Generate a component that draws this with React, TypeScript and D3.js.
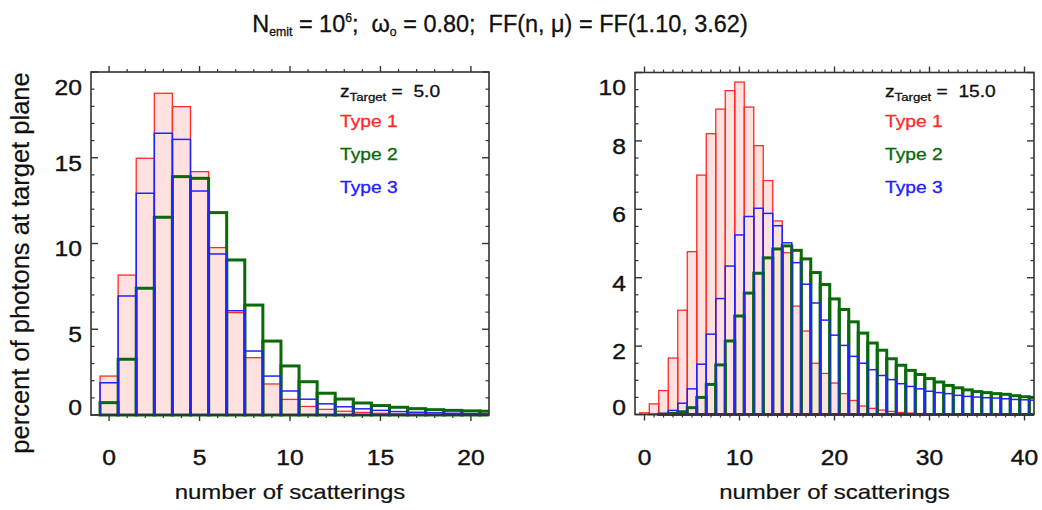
import React from "react";
import * as d3 from "d3";

// ---------- data ----------
const leftBins = d3.range(0, 22);
const leftType1 = [2.27, 8.16, 14.97, 18.76, 17.98, 14.19, 9.76, 5.97, 3.34, 1.81, 0.91, 0.5, 0.33, 0.22, 0.15, 0.1, 0.07, 0.05, 0.04, 0.03, 0.02, 0.015];
const leftType2 = [0.72, 3.25, 7.39, 11.53, 13.9, 13.8, 11.8, 9.04, 6.41, 4.31, 2.86, 1.94, 1.27, 0.93, 0.7, 0.55, 0.45, 0.37, 0.31, 0.27, 0.24, 0.22];
const leftType3 = [1.88, 6.94, 12.93, 16.43, 16.07, 13.06, 9.39, 6.08, 3.73, 2.27, 1.4, 0.92, 0.65, 0.48, 0.36, 0.27, 0.2, 0.16, 0.13, 0.1, 0.08, 0.07];

const rightBins = d3.range(0, 42);
const rightType1 = [0.05, 0.31, 0.7, 1.65, 3.05, 4.76, 7.0, 8.21, 8.93, 9.47, 9.72, 8.99, 7.86, 6.84, 5.66, 4.73, 3.17, 2.44, 1.5, 1.2, 0.92, 0.61, 0.41, 0.25, 0.18, 0.13, 0.09, 0.06, 0.04, 0.03, 0.02, 0.01, 0.01, 0, 0, 0, 0, 0, 0, 0, 0, 0];
const rightType2 = [0, 0, 0.01, 0.03, 0.08, 0.2, 0.5, 0.88, 1.45, 2.15, 2.88, 3.55, 4.13, 4.58, 4.84, 4.93, 4.8, 4.55, 4.15, 3.8, 3.38, 3.07, 2.71, 2.38, 2.09, 1.88, 1.63, 1.44, 1.29, 1.17, 1.05, 0.95, 0.85, 0.78, 0.72, 0.67, 0.64, 0.61, 0.59, 0.55, 0.52, 0.5];
const rightType3 = [0, 0.01, 0.03, 0.12, 0.33, 0.75, 1.47, 2.35, 3.39, 4.34, 5.25, 5.79, 6.03, 5.88, 5.52, 5.02, 4.44, 3.81, 3.26, 2.76, 2.32, 2.02, 1.7, 1.5, 1.31, 1.14, 1.02, 0.9, 0.82, 0.75, 0.68, 0.64, 0.61, 0.56, 0.53, 0.51, 0.49, 0.48, 0.46, 0.44, 0.43, 0.42];

const legendLabels = ["Type 1", "Type 2", "Type 3"];
const leftXTicks = [0, 5, 10, 15, 20];
const leftYTicks = [0, 5, 10, 15, 20];
const rightXTicks = [0, 10, 20, 30, 40];
const rightYTicks = [0, 2, 4, 6, 8, 10];

// ---------- style ----------
const FONT = "'Liberation Sans', Arial, Helvetica, sans-serif";
const SX = 1.2;
const RED = "#ff2a2a";
const PINK = "#ffe1df";
const GREEN = "#0a6a0a";
const BLUE = "#2222ff";
const AXIS = "#333";
const INK = "#111";

function T({ x, y, size, fill = INK, anchor = "start", sw = 0.3, sx = SX, children }: any) {
  return (
    <g transform={`translate(${x},${y}) scale(${sx},1)`}>
      <text x={0} y={0} fontSize={size} fill={fill} stroke={fill} strokeWidth={sw} textAnchor={anchor} fontFamily={FONT} style={{ whiteSpace: "pre" }}>
        {children}
      </text>
    </g>
  );
}

type PanelCfg = {
  id: string;
  left: number; right: number; top: number; bottom: number;
  xDomain: [number, number]; yDomain: [number, number];
  xMajor: number[]; xMinorStep: number; yMajor: number[]; yMinorStep: number;
  bins: number[]; t1: number[]; t2: number[]; t3: number[];
  zLabel: string;
};

function Panel({ c }: { c: PanelCfg }) {
  const x = d3.scaleLinear().domain(c.xDomain).range([c.left, c.right]);
  const y = d3.scaleLinear().domain(c.yDomain).range([c.bottom, c.top]);
  const eps = 1e-6;
  const xMinor = d3.range(Math.ceil(c.xDomain[0]), c.xDomain[1] + eps, c.xMinorStep).filter((v) => v > c.xDomain[0] + eps && v < c.xDomain[1] - eps && !c.xMajor.includes(v));
  const yMinor = d3.range(c.yDomain[0], c.yDomain[1] + eps, c.yMinorStep).filter((v) => v > c.yDomain[0] + eps && v < c.yDomain[1] - eps && !c.yMajor.some((m) => Math.abs(m - v) < eps));
  const rectOf = (b: number, v: number) => ({ x: x(b - 0.5), y: y(v), w: x(b + 0.5) - x(b - 0.5), h: y(0) - y(v) });
  const bars = (vals: number[]) => c.bins.map((b, i) => ({ b, ...rectOf(b, vals[i]) }));
  const clip = `clip-${c.id}`;
  const legX = c.right - 149;
  return (
    <g>
      <defs>
        <clipPath id={clip}>
          <rect x={c.left} y={c.top - 2} width={c.right - c.left} height={c.bottom - c.top + 4} />
        </clipPath>
      </defs>
      <g clipPath={`url(#${clip})`}>
        {bars(c.t1).map((r) => (
          <rect key={"f" + r.b} x={r.x} y={r.y} width={r.w} height={r.h} fill={PINK} stroke="none" />
        ))}
        {bars(c.t1).map((r) => (
          <rect key={"r" + r.b} x={r.x} y={r.y} width={r.w} height={r.h} fill="none" stroke={RED} strokeWidth={1.3} />
        ))}
        {bars(c.t2).map((r) => (
          <rect key={"g" + r.b} x={r.x} y={r.y} width={r.w} height={r.h} fill="none" stroke={GREEN} strokeWidth={3} />
        ))}
        {bars(c.t3).map((r) => (
          <rect key={"b" + r.b} x={r.x} y={r.y} width={r.w} height={r.h} fill="none" stroke={BLUE} strokeWidth={1.5} />
        ))}
      </g>
      {/* frame */}
      <rect x={c.left} y={c.top} width={c.right - c.left} height={c.bottom - c.top} fill="none" stroke={AXIS} strokeWidth={1.6} />
      {/* x ticks (outward, top & bottom) */}
      {c.xMajor.map((v) => (
        <g key={"xm" + v}>
          <line x1={x(v)} x2={x(v)} y1={c.bottom} y2={c.bottom + 6} stroke={AXIS} strokeWidth={1.4} />
          <line x1={x(v)} x2={x(v)} y1={c.top} y2={c.top - 6} stroke={AXIS} strokeWidth={1.4} />
        </g>
      ))}
      {xMinor.map((v) => (
        <g key={"xn" + v}>
          <line x1={x(v)} x2={x(v)} y1={c.bottom} y2={c.bottom + 3} stroke={AXIS} strokeWidth={1.2} />
          <line x1={x(v)} x2={x(v)} y1={c.top} y2={c.top - 3} stroke={AXIS} strokeWidth={1.2} />
        </g>
      ))}
      {/* y ticks (inward, left & right) */}
      {c.yMajor.map((v) => (
        <g key={"ym" + v}>
          <line x1={c.left} x2={c.left + 7} y1={y(v)} y2={y(v)} stroke={AXIS} strokeWidth={1.4} />
          <line x1={c.right} x2={c.right - 7} y1={y(v)} y2={y(v)} stroke={AXIS} strokeWidth={1.4} />
        </g>
      ))}
      {yMinor.map((v) => (
        <g key={"yn" + v}>
          <line x1={c.left} x2={c.left + 3.5} y1={y(v)} y2={y(v)} stroke={AXIS} strokeWidth={1.2} />
          <line x1={c.right} x2={c.right - 3.5} y1={y(v)} y2={y(v)} stroke={AXIS} strokeWidth={1.2} />
        </g>
      ))}
      {/* tick labels */}
      {c.xMajor.map((v) => (
        <T key={"xl" + v} x={x(v)} y={464.5} size={22} sx={1.12} sw={0.4} anchor="middle">{String(v)}</T>
      ))}
      {c.yMajor.map((v) => {
        const cy = Math.min(Math.max(y(v) + 5, c.top + 15), c.bottom - 7.5);
        return (
          <T key={"yl" + v} x={c.left - 9} y={cy + 7.8} size={22} sx={1.12} sw={0.4} anchor="end">{String(v)}</T>
        );
      })}
      {/* legend */}
      <g transform={`translate(${legX},96.7) scale(${SX},1)`}>
        <text x={0} y={0} fontSize={16} fill={INK} stroke={INK} strokeWidth={0.3} fontFamily={FONT} style={{ whiteSpace: "pre" }}>
          z<tspan fontSize={11} dy={4}>Target</tspan><tspan dy={-4}>{" =  " + c.zLabel}</tspan>
        </text>
      </g>
      <T x={legX} y={126.5} size={16} fill={RED}>{legendLabels[0]}</T>
      <T x={legX} y={160} size={16} fill={GREEN}>{legendLabels[1]}</T>
      <T x={legX} y={193} size={16} fill={BLUE}>{legendLabels[2]}</T>
      {/* x axis title */}
      <T x={(c.left + c.right) / 2} y={499} size={20} sw={0.2} anchor="middle">number of scatterings</T>
    </g>
  );
}

const leftCfg: PanelCfg = {
  id: "L", left: 91, right: 489, top: 72, bottom: 415,
  xDomain: [-1, 21], yDomain: [0, 20],
  xMajor: leftXTicks, xMinorStep: 1, yMajor: leftYTicks, yMinorStep: 1,
  bins: leftBins, t1: leftType1, t2: leftType2, t3: leftType3, zLabel: "5.0",
};
const rightCfg: PanelCfg = {
  id: "R", left: 635, right: 1034, top: 72.5, bottom: 414.5,
  xDomain: [-1, 41], yDomain: [0, 10],
  xMajor: rightXTicks, xMinorStep: 1, yMajor: rightYTicks, yMinorStep: 0.5,
  bins: rightBins, t1: rightType1, t2: rightType2, t3: rightType3, zLabel: "15.0",
};

export default function App() {
  return (
    <svg width={1042} height={510} style={{ position: "absolute", left: 0, top: 0, background: "#fff" }}>
      <rect x={0} y={0} width={1042} height={510} fill="#fff" />
      <g transform={`translate(500,31.5) scale(1.02,1)`}>
        <text x={0} y={0} fontSize={23} fill={INK} stroke={INK} strokeWidth={0.3} textAnchor="middle" fontFamily={FONT} style={{ whiteSpace: "pre" }}>
          N<tspan fontSize={12} dy={4}>emit</tspan>
          <tspan dy={-4}>{" = 10"}</tspan>
          <tspan fontSize={12} dy={-10}>6</tspan>
          <tspan dy={10}>{";  ω"}</tspan>
          <tspan fontSize={12} dy={4}>o</tspan>
          <tspan dy={-4}>{" = 0.80;  FF(n, μ) = FF(1.10, 3.62)"}</tspan>
        </text>
      </g>
      <g transform={`translate(29,263) rotate(-90)`}>
        <text x={0} y={0} fontSize={25.5} fill={INK} stroke={INK} strokeWidth={0.2} textAnchor="middle" fontFamily={FONT}>percent of photons at target plane</text>
      </g>
      <Panel c={leftCfg} />
      <Panel c={rightCfg} />
    </svg>
  );
}
